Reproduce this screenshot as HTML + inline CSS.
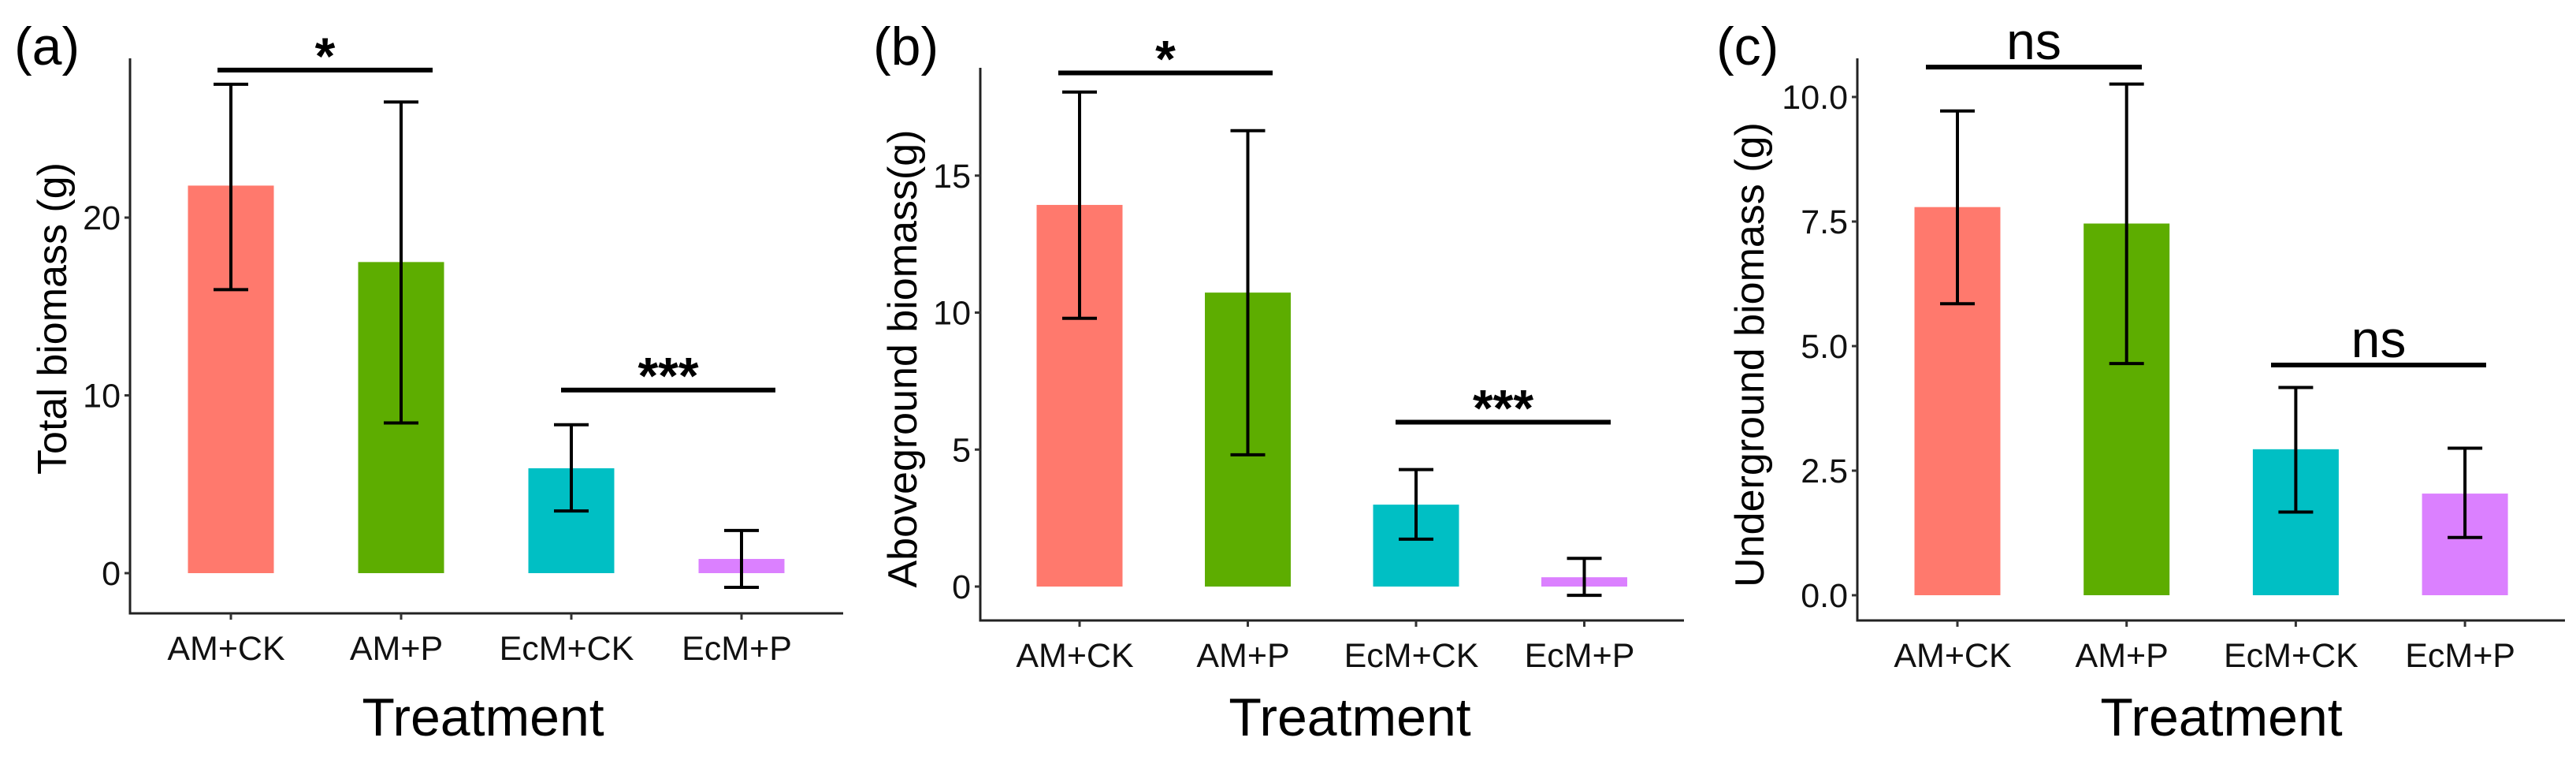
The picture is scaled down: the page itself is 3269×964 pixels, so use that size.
<!DOCTYPE html>
<html><head><meta charset="utf-8"><style>
html,body{margin:0;padding:0;background:#fff;}
svg{display:block;font-family:"Liberation Sans",Arial,sans-serif;}
</style></head><body>
<svg id="fig" width="3269" height="964" viewBox="0 0 3269 964" xmlns="http://www.w3.org/2000/svg"></svg>
<script>
const categories = ["AM+CK","AM+P","EcM+CK","EcM+P"];
const colors = ["#FF796D","#5DAD00","#00BFC4","#DB80FF"];
// Panel a: Total biomass
const totalMean = [21.8, 17.5, 5.9, 0.8];
const totalLow = [15.95, 8.45, 3.5, -0.8];
const totalHigh = [27.5, 26.5, 8.35, 2.4];
const totalTicks = [0, 10, 20];
const totalTickLabels = ["0","10","20"];
// Panel b: Aboveground biomass
const aboveMean = [13.93, 10.73, 2.99, 0.34];
const aboveLow = [9.79, 4.81, 1.73, -0.32];
const aboveHigh = [18.05, 16.64, 4.27, 1.03];
const aboveTicks = [0, 5, 10, 15];
const aboveTickLabels = ["0","5","10","15"];
// Panel c: Underground biomass
const underMean = [7.79, 7.46, 2.93, 2.04];
const underLow = [5.85, 4.65, 1.67, 1.16];
const underHigh = [9.72, 10.26, 4.17, 2.95];
const underTicks = [0, 2.5, 5, 7.5, 10];
const underTickLabels = ["0.0","2.5","5.0","7.5","10.0"];
// significance labels
const sigA = ["*","***"];
const sigB = ["*","***"];
const sigC = ["ns","ns"];

const NS="http://www.w3.org/2000/svg";
const svg=document.getElementById('fig');
function mk(tag,attrs,parent){const e=document.createElementNS(NS,tag);for(const k in attrs)e.setAttribute(k,attrs[k]);(parent||svg).appendChild(e);return e;}

function panel(cfg){
  const g=mk('g',{});
  
  
  const y=v=>cfg.y0-(v-0)*cfg.unit;
  const x=i=>cfg.x0+i*cfg.step;
  cfg.mean.forEach((m,i)=>{
    const r=mk('rect',{x:x(i)-54.5,y:Math.min(y(m),y(0)),width:109,height:Math.abs(y(0)-y(m)),fill:colors[i]},g);
    
    
  });
  cfg.mean.forEach((m,i)=>{
    const eg=mk('g',{stroke:'#000','stroke-width':4},g);
    
    
    mk('line',{x1:x(i),x2:x(i),y1:y(cfg.high[i]),y2:y(cfg.low[i])},eg);
    mk('line',{x1:x(i)-22,x2:x(i)+22,y1:y(cfg.high[i]),y2:y(cfg.high[i])},eg);
    mk('line',{x1:x(i)-22,x2:x(i)+22,y1:y(cfg.low[i]),y2:y(cfg.low[i])},eg);
  });
  const ax=mk('line',{x1:cfg.ax,x2:cfg.ax,y1:cfg.top,y2:cfg.xaxisY+1.5,stroke:'#222','stroke-width':3},g);
  
  
  const bx=mk('line',{x1:cfg.ax-1.5,x2:cfg.right,y1:cfg.xaxisY,y2:cfg.xaxisY,stroke:'#222','stroke-width':3},g);
  
  
  cfg.ticks.forEach((t,i)=>{
    mk('line',{x1:cfg.ax-7,x2:cfg.ax,y1:y(t),y2:y(t),stroke:'#333','stroke-width':3},g);
    const tl=mk('text',{x:cfg.ax-12,y:y(t)+15,'text-anchor':'end','font-size':43,fill:'#111'},g);
    tl.textContent=cfg.tickLabels[i];
    
    
  });
  categories.forEach((c,i)=>{
    mk('line',{x1:x(i),x2:x(i),y1:cfg.xaxisY,y2:cfg.xaxisY+8,stroke:'#333','stroke-width':3},g);
    const tl=mk('text',{x:x(i)-6,y:cfg.xaxisY+59,'text-anchor':'middle','font-size':43,fill:'#111'},g);
    tl.textContent=c;
    
    
  });
  const xt=mk('text',{x:cfg.tx,y:933,'text-anchor':'middle','font-size':68,fill:'#000'},g);
  xt.textContent='Treatment';
  
  
  const yt=mk('text',{x:0,y:0,'text-anchor':'middle','font-size':52,fill:'#000',transform:`translate(${cfg.ytx},${cfg.yty}) rotate(-90)`},g);
  yt.textContent=cfg.ytitle;
  
  
  const pl=mk('text',{x:cfg.lx,y:82,'font-size':68,fill:'#000'},g);
  pl.textContent='('+cfg.id+')';
  
  
  cfg.sig.forEach((s,k)=>{
    const sx=cfg.sigX[k];
    const ly=y(cfg.sigV[k]);
    const sl=mk('line',{x1:sx[0],x2:sx[1],y1:ly,y2:ly,stroke:'#000','stroke-width':6},g);
    
    
    const isNs=s==='ns';
    const st=mk('text',{x:(sx[0]+sx[1])/2,y:isNs?ly-10:ly+5,'text-anchor':'middle','font-size':isNs?66:66,'font-weight':isNs?'normal':'bold',fill:'#000'},g);
    st.textContent=s;
    
    
  });
}
panel({id:'a',x0:293,step:216,y0:727,unit:22.55,ax:165,top:74,right:1070,xaxisY:778,
  mean:totalMean,low:totalLow,high:totalHigh,ticks:totalTicks,tickLabels:totalTickLabels,
  tx:613,ytx:84,yty:404,ytitle:'Total biomass (g)',lx:18,
  sig:sigA,sigV:[28.3,10.3],sigX:[[276,549],[712,984]]});
panel({id:'b',x0:1370,step:213.5,y0:744,unit:34.75,ax:1244,top:86,right:2137,xaxisY:787,
  mean:aboveMean,low:aboveLow,high:aboveHigh,ticks:aboveTicks,tickLabels:aboveTickLabels,
  tx:1713,ytx:1163,yty:455,ytitle:'Aboveground biomass(g)',lx:1108,
  sig:sigB,sigV:[18.75,6.0],sigX:[[1343,1615],[1771,2044]]});
panel({id:'c',x0:2484,step:214.7,y0:755,unit:63.2,ax:2357,top:74,right:3255,xaxisY:787,
  mean:underMean,low:underLow,high:underHigh,ticks:underTicks,tickLabels:underTickLabels,
  tx:2819,ytx:2238,yty:450,ytitle:'Underground biomass (g)',lx:2178,
  sig:sigC,sigV:[10.6,4.62],sigX:[[2444,2718],[2882,3155]]});
</script>
</body></html>
